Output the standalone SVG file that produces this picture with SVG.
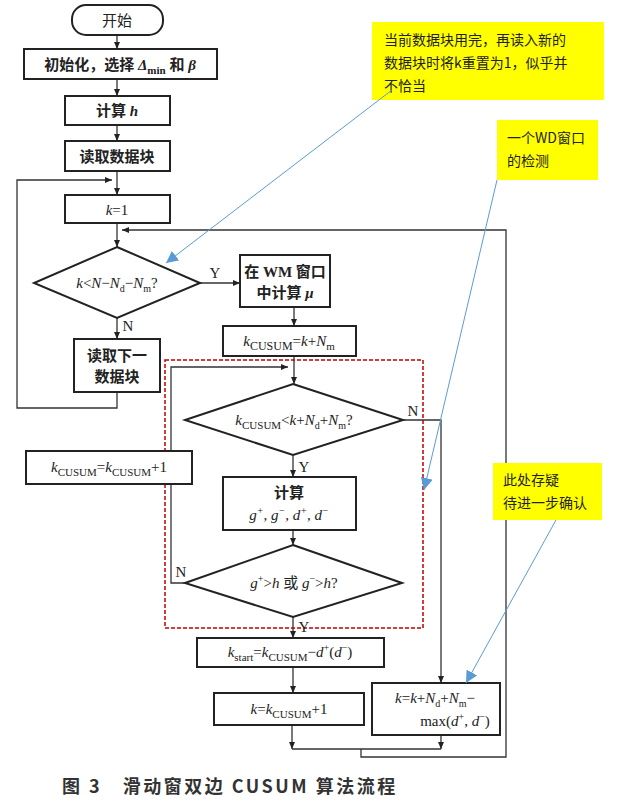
<svg xmlns="http://www.w3.org/2000/svg" width="636" height="809" viewBox="0 0 636 809">
<style>
.b{fill:#fff;stroke:#222;stroke-width:2}
.t{font-family:"Liberation Serif","Noto Sans CJK SC",serif;font-size:15px;fill:#222;text-anchor:middle}
.i{font-style:italic}
.c{stroke:#333;stroke-width:1.3;fill:none}
.n{font-family:"Noto Sans CJK SC",sans-serif;font-size:14px;fill:#222}
.blue{stroke:#5b9bd5;stroke-width:1;fill:none}
</style>
<defs>
<marker id="a" markerWidth="8" markerHeight="8" refX="7" refY="4" orient="auto" markerUnits="userSpaceOnUse"><path d="M0,1 L7,4 L0,7 Z" fill="#222"/></marker>
<marker id="ab" markerWidth="14" markerHeight="12" refX="12" refY="6" orient="auto" markerUnits="userSpaceOnUse"><path d="M0,0 L12,6 L0,12 Z" fill="#5b9bd5"/></marker>
</defs>
<rect width="636" height="809" fill="#fff"/>
<g id="connectors">
<path class="c" d="M117,35 V49" marker-end="url(#a)"/>
<path class="c" d="M117,79 V96" marker-end="url(#a)"/>
<path class="c" d="M117,125 V141" marker-end="url(#a)"/>
<path class="c" d="M117,171 V195" marker-end="url(#a)"/>
<path class="c" d="M117,392 V408 H17 V180 H112" marker-end="url(#a)"/>
<path class="c" d="M117,223 V247" marker-end="url(#a)"/>
<path class="c" d="M200,283 H240" marker-end="url(#a)"/>
<path class="c" d="M117,318 V339" marker-end="url(#a)"/>
<path class="c" d="M294,307 V326" marker-end="url(#a)"/>
<path class="c" d="M294,356 V384" marker-end="url(#a)"/>
<path class="c" d="M293,455 V477" marker-end="url(#a)"/>
<path class="c" d="M293,530 V545" marker-end="url(#a)"/>
<path class="c" d="M185,583 H171 V367 H288" marker-end="url(#a)"/>
<path class="c" d="M293,617 V638" marker-end="url(#a)"/>
<path class="c" d="M293,667 V693" marker-end="url(#a)"/>
<path class="c" d="M403,420 H441 V683" marker-end="url(#a)"/>
<path class="c" d="M292,725 V749" marker-end="url(#a)"/>
<path class="c" d="M441,735 V749" marker-end="url(#a)"/>
<path class="c" d="M292,749 H441 M361,749 V757 H506 V230 H122" marker-end="url(#a)"/>
</g>
<rect x="165" y="360" width="258" height="268" fill="none" stroke="#c00000" stroke-width="1.5" stroke-dasharray="4,2"/>
<g id="start"><rect class="b" x="72" y="5" width="91" height="30" rx="14"/><text class="t" x="117" y="26">开始</text></g>
<g id="init"><rect class="b" x="24" y="49" width="193" height="30"/><text class="t" x="120" y="70" font-weight="bold">初始化，选择 <tspan class="i">Δ</tspan><tspan font-size="11" dy="4">min</tspan><tspan dy="-4"> 和 </tspan><tspan class="i">β</tspan></text></g>
<g id="calch"><rect class="b" x="65" y="96" width="105" height="29"/><text class="t" x="117" y="116" font-weight="bold">计算 <tspan class="i">h</tspan></text></g>
<g id="read"><rect class="b" x="65" y="141" width="105" height="30"/><text class="t" x="117" y="162" font-weight="bold">读取数据块</text></g>
<g id="k1"><rect class="b" x="65" y="195" width="105" height="28"/><text class="t" x="117" y="215"><tspan class="i">k</tspan>=1</text></g>
<g id="d1"><path class="b" d="M117,247 L200,283 L117,318 L34,283 Z"/><text class="t" x="117" y="288"><tspan class="i">k</tspan>&lt;<tspan class="i">N</tspan>−<tspan class="i">N</tspan><tspan font-size="10" dy="4">d</tspan><tspan dy="-4">−</tspan><tspan class="i">N</tspan><tspan font-size="10" dy="4">m</tspan><tspan dy="-4">?</tspan></text>
<text class="t" x="215" y="278">Y</text><text class="t" x="128" y="331">N</text></g>
<g id="readnext"><rect class="b" x="74" y="339" width="86" height="53"/><text class="t" x="117" y="361" font-weight="bold">读取下一</text><text class="t" x="117" y="382" font-weight="bold">数据块</text></g>
<g id="wm"><rect class="b" x="240" y="255" width="90" height="52"/><text class="t" x="285" y="277" font-weight="bold">在 WM 窗口</text><text class="t" x="285" y="298" font-weight="bold">中计算 <tspan class="i">μ</tspan></text></g>
<g id="kc"><rect class="b" x="223" y="326" width="133" height="30"/><text class="t" x="289" y="346"><tspan class="i">k</tspan><tspan font-size="12" dy="4">CUSUM</tspan><tspan dy="-4">=</tspan><tspan class="i">k</tspan>+<tspan class="i">N</tspan><tspan font-size="11" dy="4">m</tspan></text></g>
<g id="d2"><path class="b" d="M293,384 L403,420 L293,455 L185,420 Z"/><text class="t" x="294" y="425"><tspan class="i">k</tspan><tspan font-size="11" dy="4">CUSUM</tspan><tspan dy="-4">&lt;</tspan><tspan class="i">k</tspan>+<tspan class="i">N</tspan><tspan font-size="10" dy="4">d</tspan><tspan dy="-4">+</tspan><tspan class="i">N</tspan><tspan font-size="10" dy="4">m</tspan><tspan dy="-4">?</tspan></text>
<text class="t" x="413" y="416">N</text><text class="t" x="304" y="472">Y</text></g>
<g id="calcg"><rect class="b" x="223" y="477" width="133" height="53"/><text class="t" x="289" y="498" font-weight="bold">计算</text><text class="t i" x="289" y="520">g<tspan font-size="10" dy="-6">+</tspan><tspan dy="6">, g</tspan><tspan font-size="10" dy="-6">−</tspan><tspan dy="6">, d</tspan><tspan font-size="10" dy="-6">+</tspan><tspan dy="6">, d</tspan><tspan font-size="10" dy="-6">−</tspan></text></g>
<g id="d3"><path class="b" d="M293,545 L402,583 L293,617 L185,583 Z"/><text class="t" x="294" y="588"><tspan class="i">g</tspan><tspan font-size="10" dy="-6">+</tspan><tspan dy="6">&gt;</tspan><tspan class="i">h</tspan> 或 <tspan class="i">g</tspan><tspan font-size="10" dy="-6">−</tspan><tspan dy="6">&gt;</tspan><tspan class="i">h</tspan>?</text>
<text class="t" x="181" y="577">N</text><text class="t" x="304" y="632">Y</text></g>
<g id="kinc"><rect class="b" x="26" y="451" width="166" height="33"/><text class="t" x="109" y="472"><tspan class="i">k</tspan><tspan font-size="11" dy="4">CUSUM</tspan><tspan dy="-4">=</tspan><tspan class="i">k</tspan><tspan font-size="11" dy="4">CUSUM</tspan><tspan dy="-4">+1</tspan></text></g>
<g id="kstart"><rect class="b" x="197" y="638" width="187" height="29"/><text class="t" x="290" y="657"><tspan class="i">k</tspan><tspan font-size="11" dy="4">start</tspan><tspan dy="-4">=</tspan><tspan class="i">k</tspan><tspan font-size="11" dy="4">CUSUM</tspan><tspan dy="-4">−</tspan><tspan class="i">d</tspan><tspan font-size="10" dy="-6">+</tspan><tspan dy="6">(</tspan><tspan class="i">d</tspan><tspan font-size="10" dy="-6">−</tspan><tspan dy="6">)</tspan></text></g>
<g id="knext"><rect class="b" x="214" y="693" width="150" height="32" stroke-width="2.5"/><text class="t" x="289" y="714"><tspan class="i">k</tspan>=<tspan class="i">k</tspan><tspan font-size="11" dy="4">CUSUM</tspan><tspan dy="-4">+1</tspan></text></g>
<g id="kskip"><rect class="b" x="372" y="683" width="128" height="52"/><text class="t" x="435" y="703"><tspan class="i">k</tspan>=<tspan class="i">k</tspan>+<tspan class="i">N</tspan><tspan font-size="10" dy="4">d</tspan><tspan dy="-4">+</tspan><tspan class="i">N</tspan><tspan font-size="10" dy="4">m</tspan><tspan dy="-4">−</tspan></text><text class="t" x="455" y="726">max(<tspan class="i">d</tspan><tspan font-size="10" dy="-6">+</tspan><tspan dy="6">, </tspan><tspan class="i">d</tspan><tspan font-size="10" dy="-6">−</tspan><tspan dy="6">)</tspan></text></g>
<g id="note1"><rect x="372" y="22" width="232" height="78" fill="#ffff00"/><text class="n" x="384" y="45">当前数据块用完，再读入新的</text><text class="n" x="384" y="68">数据块时将k重置为1，似乎并</text><text class="n" x="384" y="91">不恰当</text></g>
<g id="note2"><rect x="497" y="120" width="101" height="60" fill="#ffff00"/><text class="n" x="507" y="143">一个WD窗口</text><text class="n" x="507" y="166">的检测</text></g>
<g id="note3"><rect x="493" y="463" width="109" height="57" fill="#ffff00"/><text class="n" x="503" y="485">此处存疑</text><text class="n" x="503" y="508">待进一步确认</text></g>
<g id="annotation-arrows">
<path class="blue" d="M392,90 L166,263" marker-end="url(#ab)"/>
<path class="blue" d="M497,180 L424,490" marker-end="url(#ab)"/>
<path class="blue" d="M556,520 L466,683" marker-end="url(#ab)"/>
</g>
<text x="62" y="793" font-family="'Noto Sans CJK SC',sans-serif" font-size="18" font-weight="bold" letter-spacing="2.5" fill="#333">图 3　滑动窗双边 CUSUM 算法流程</text>
</svg>
